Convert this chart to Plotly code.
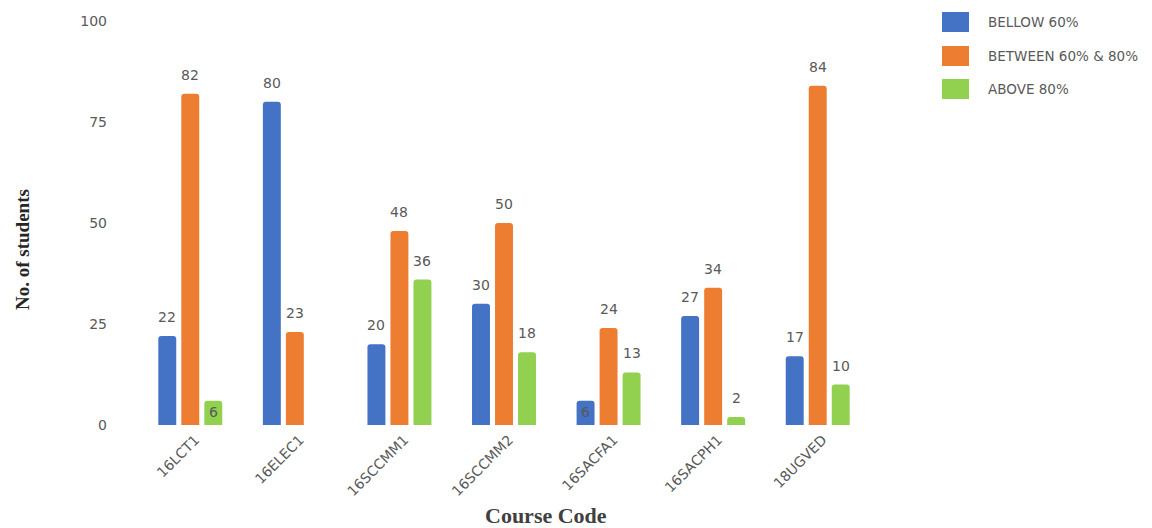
import plotly.graph_objects as go

courses = ["16LCT1", "16ELEC1", "16SCCMM1", "16SCCMM2", "16SACFA1", "16SACPH1", "18UGVED"]
series_names = ["BELLOW 60%", "BETWEEN 60% & 80%", "ABOVE 80%"]
below_60 = [22, 80, 20, 30, 6, 27, 17]
between_60_80 = [82, 23, 48, 50, 24, 34, 84]
above_80 = [6, 0, 36, 18, 13, 2, 10]
y_ticks = [0, 25, 50, 75, 100]

colors = ["#4472C4", "#ED7D31", "#92D050"]
series = [below_60, between_60_80, above_80]
gray = "#595959"
FONT = "DejaVu Sans, sans-serif"

# page body has an 8px margin; work in screen pixels and convert
OFF = 8
W, H = 1152 - OFF, 528 - OFF
L, R, T, B = 138 - OFF, 870 - OFF, 21 - OFF, 425 - OFF

fig = go.Figure()
for name, vals, col in zip(series_names, series, colors):
    fig.add_trace(go.Bar(name=name, x=courses, y=vals, marker_color=col,
                         marker_line_width=0, showlegend=False))

bargap = 0.34
slot = (1 - bargap) / 3
annotations = []
for j, vals in enumerate(series):
    off = (j - 1) * slot
    for i, v in enumerate(vals):
        if v == 0:
            continue
        inside = 3 < v <= 6
        annotations.append(dict(
            x=i + off, y=v, xref="x", yref="y", text=str(v), showarrow=False,
            yanchor="top" if inside else "bottom",
            yshift=-1 if inside else 9,
            font=dict(family=FONT, size=14, color=gray)))

def px(xs):
    return (xs - OFF - L) / (R - L)

def py(ys):
    return (B - (ys - OFF)) / (B - T)

shapes = []
legend_rows = [22, 56, 89]
for name, col, yc in zip(series_names, colors, legend_rows):
    shapes.append(dict(type="rect", xref="paper", yref="paper",
                       x0=px(942), x1=px(969), y0=py(yc + 10), y1=py(yc - 10),
                       fillcolor=col, line=dict(width=0)))
    annotations.append(dict(xref="paper", yref="paper", x=px(986), y=py(yc),
                            xanchor="left", yanchor="middle", text=name, showarrow=False,
                            font=dict(family=FONT, size=13.5, color=gray)))

annotations.append(dict(xref="paper", yref="paper", x=px(546), y=py(515),
                        xanchor="center", yanchor="middle", text="<b>Course Code</b>",
                        showarrow=False,
                        font=dict(family="Liberation Serif, serif", size=22, color="#404040")))
annotations.append(dict(xref="paper", yref="paper", x=px(22), y=py(250),
                        xanchor="center", yanchor="middle", text="<b>No. of students</b>",
                        textangle=-90, showarrow=False,
                        font=dict(family="Liberation Serif, serif", size=19, color="#262626")))

fig.update_layout(
    width=W, height=H,
    margin=dict(l=L, r=W - R, t=T, b=H - B, autoexpand=False),
    plot_bgcolor="white", paper_bgcolor="white",
    barmode="group", bargap=bargap, bargroupgap=0.22, barcornerradius=3,
    annotations=annotations, shapes=shapes,
    xaxis=dict(showgrid=False, showline=False, zeroline=False, tickangle=-45,
               ticks="", ticklabelstandoff=3, ticklabelshift=5,
               tickfont=dict(family=FONT, size=14, color=gray)),
    yaxis=dict(range=[0, 100], tickvals=y_ticks, showgrid=False, showline=False,
               zeroline=False, ticks="", ticklabelstandoff=30,
               tickfont=dict(family=FONT, size=14, color=gray)),
)

fig.write_html("out.html")
